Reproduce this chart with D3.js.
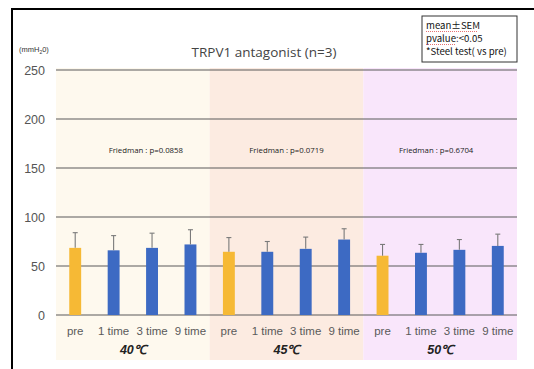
<!DOCTYPE html>
<html>
<head>
<meta charset="utf-8">
<script src="https://cdn.jsdelivr.net/npm/d3@7"></script>
<style>
  html, body { margin: 0; padding: 0; background: #fff; }
  svg { display: block; }
</style>
</head>
<body>
<svg id="chart" width="534" height="369"></svg>
<script>
// Bladder pressure by stimulation temperature and repetition
const groups = ["40℃", "45℃", "50℃"];
const conditions = ["pre", "1 time", "3 time", "9 time"];
const groupColors = ["#fef9ee", "#fcebe1", "#f9e6fb"];
const meanValues = [68.5, 66, 68.5, 72, 64.5, 64.5, 67.5, 77, 60.5, 63.5, 66.5, 70.5];
const semValues = [15.5, 15, 15, 15, 14.5, 10.5, 12, 11, 11.5, 8.5, 10.5, 12];
const friedmanLabels = ["Friedman : p=0.0858", "Friedman : p=0.0719", "Friedman : p=0.6704"];
const yTicks = [0, 50, 100, 150, 200, 250];
const legendLines = ["mean±SEM", "pvalue:<0.05", "*Steel test( vs pre)"];

const rows = [];
groups.forEach((g, gi) => conditions.forEach((c, ci) => {
  const i = gi * conditions.length + ci;
  rows.push({ key: g + "|" + c, group: gi, cond: c, mean: meanValues[i], sem: semValues[i] });
}));

const svg = d3.select("#chart");
const plotLeft = 56, plotRight = 517, plotTop = 70, plotBottom = 315;

const x = d3.scaleBand().domain(rows.map(d => d.key)).range([plotLeft, plotRight]).paddingInner(0.69).paddingOuter(0.345);
const bandStep = (plotRight - plotLeft) / rows.length;
const y = d3.scaleLinear().domain([0, 250]).range([plotBottom, plotTop]);

// outer frame
svg.append("path").attr("d", "M12,369 L12,9 L534,9")
  .attr("fill", "none").attr("stroke", "#000").attr("stroke-width", 2);

// temperature panels
groups.forEach((g, gi) => {
  const x0 = plotLeft + gi * conditions.length * bandStep;
  svg.append("rect").attr("x", x0).attr("y", plotTop - 2)
    .attr("width", conditions.length * bandStep).attr("height", 360 - (plotTop - 2))
    .attr("fill", groupColors[gi]);
});

// gridlines
svg.append("g").selectAll("line").data(yTicks).join("line")
  .attr("x1", plotLeft).attr("x2", plotRight)
  .attr("y1", d => y(d)).attr("y2", d => y(d))
  .attr("stroke", "#5a5a5a").attr("stroke-width", 1.2);

// y axis labels
const yAxis = d3.axisLeft(y).tickValues(yTicks).tickSize(0).tickPadding(0);
const yg = svg.append("g").attr("transform", `translate(${plotLeft - 11},0)`).call(yAxis);
yg.select(".domain").remove();
yg.selectAll("text").attr("font-family", "Liberation Sans, Arial, sans-serif")
  .attr("font-size", 12.5).attr("fill", "#555").attr("dy", "0.35em");

// bars
svg.append("g").selectAll("rect").data(rows).join("rect")
  .attr("x", d => x(d.key)).attr("width", x.bandwidth())
  .attr("y", d => y(d.mean)).attr("height", d => y(0) - y(d.mean))
  .attr("fill", d => d.cond === "pre" ? "#f6b935" : "#3d6ac3");

// upper SEM whiskers
const err = svg.append("g").attr("stroke", "#7a7a7a").attr("stroke-width", 1.1);
rows.forEach(d => {
  const cx = x(d.key) + x.bandwidth() / 2;
  err.append("line").attr("x1", cx).attr("x2", cx).attr("y1", y(d.mean)).attr("y2", y(d.mean + d.sem));
  err.append("line").attr("x1", cx - 2.5).attr("x2", cx + 2.5).attr("y1", y(d.mean + d.sem)).attr("y2", y(d.mean + d.sem));
});

// category labels
svg.append("g").selectAll("text").data(rows).join("text")
  .attr("x", d => x(d.key) + x.bandwidth() / 2).attr("y", 335)
  .attr("text-anchor", "middle")
  .attr("font-family", "Liberation Sans, Arial, sans-serif").attr("font-size", 11.5)
  .attr("fill", "#5a5a5a").text(d => d.cond);

// temperature labels
svg.append("g").selectAll("text").data(groups).join("text")
  .attr("x", (d, gi) => plotLeft + (gi + 0.5) * conditions.length * bandStep).attr("y", 354)
  .attr("text-anchor", "middle")
  .attr("font-family", "Liberation Sans, Arial, sans-serif").attr("font-size", 12.5)
  .attr("font-weight", "bold").attr("font-style", "italic")
  .attr("fill", "#222").text(d => d);

// Friedman test results
const friedmanOffset = [13, 0, -4];
svg.append("g").selectAll("text").data(friedmanLabels).join("text")
  .attr("x", (d, gi) => plotLeft + (gi + 0.5) * conditions.length * bandStep + friedmanOffset[gi])
  .attr("y", 153)
  .attr("text-anchor", "middle")
  .attr("font-family", "Open Sans, sans-serif").attr("font-size", 7.8)
  .attr("fill", "#222").text(d => d);

// title and unit
svg.append("text").attr("x", 264).attr("y", 57).attr("text-anchor", "middle")
  .attr("font-family", "Open Sans, sans-serif").attr("font-size", 13.5)
  .attr("fill", "#444").text("TRPV1 antagonist (n=3)");

const unit = svg.append("text").attr("x", 19).attr("y", 52)
  .attr("font-family", "Liberation Sans, Arial, sans-serif").attr("font-size", 7.5).attr("fill", "#333");
unit.append("tspan").text("(mmH");
unit.append("tspan").attr("font-size", 5).attr("dy", 2).text("2");
unit.append("tspan").attr("dy", -2).text("0)");

// statistics note box
svg.append("rect").attr("x", 422).attr("y", 16).attr("width", 95).attr("height", 46)
  .attr("fill", "#fff").attr("stroke", "#333").attr("stroke-width", 1);
const lg = svg.append("g").attr("font-family", "Noto Sans CJK JP, sans-serif").attr("font-size", 9.6).attr("fill", "#111");
legendLines.forEach((t, i) => {
  lg.append("text").attr("x", 426).attr("y", 29 + i * 13).text(t);
});
// spell-check underlines
[[426, 477, 31.5], [426, 456, 44.5]].forEach(([a, b, yy]) => {
  svg.append("line").attr("x1", a).attr("x2", b).attr("y1", yy).attr("y2", yy)
    .attr("stroke", "#e05050").attr("stroke-width", 0.8).attr("stroke-dasharray", "1,1");
});
</script>
</body>
</html>
